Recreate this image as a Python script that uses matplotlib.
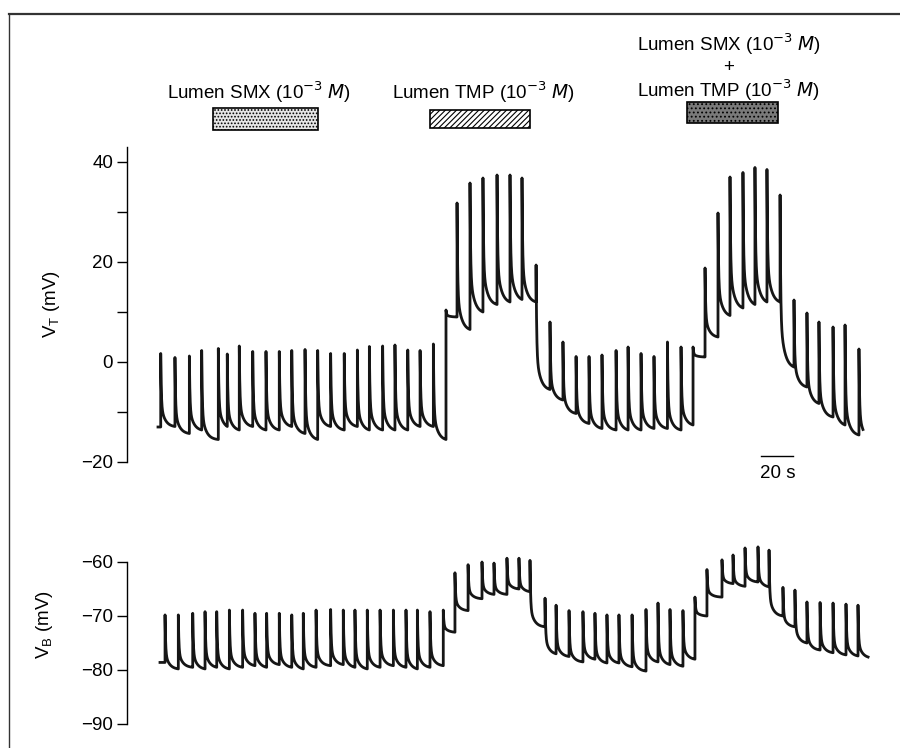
import numpy as np
import matplotlib
matplotlib.use("Agg")
import matplotlib.pyplot as plt
from matplotlib.patches import Rectangle
from matplotlib.lines import Line2D

plt.rcParams['font.family'] = ['Liberation Sans', 'DejaVu Sans']
plt.rcParams['hatch.linewidth'] = 0.8

# ---------------- data ----------------
# Transepithelial potential V_T (mV): time of each spike (s), peak value, level reached before next event
vt_start = (0.0, -13.0)
vt_end_t = 440.6
vt_t = [1.7, 10.6, 19.6, 27.3, 37.7, 43.3, 50.8, 59.2, 67.5, 75.8, 83.6, 91.9, 99.8, 107.9,
        116.4, 124.6, 132.1, 140.4, 148.1, 156.1, 163.8, 172.1,
        180.0,
        186.9, 195.0, 203.1, 211.9, 220.0, 227.5, 236.3,
        245.0, 253.1, 261.3, 269.4, 277.5, 286.3, 293.8, 301.9, 310.0, 318.4, 326.9, 334.4,
        341.9, 350.0, 357.5, 365.6, 373.1, 380.6, 388.8,
        397.5, 405.6, 413.1, 421.9, 429.4, 438.1]
vt_peak = [1.7, 0.9, 1.2, 2.3, 2.7, 1.6, 3.2, 2.1, 2.1, 2.1, 2.3, 2.5, 2.3, 1.7,
           1.7, 2.4, 3.1, 3.2, 3.4, 2.4, 2.3, 3.6,
           10.4,
           31.8, 35.8, 36.8, 37.4, 37.4, 36.8, 19.4,
           8.0, 4.0, 1.1, 1.1, 1.4, 2.3, 3.0, 1.7, 1.1, 4.0, 3.0, 3.0,
           18.8, 29.8, 37.0, 37.9, 38.9, 38.5, 33.4,
           12.4, 9.8, 8.0, 7.0, 7.4, 2.6]
vt_low = [-12.9, -14.3, -13.6, -15.5, -12.9, -13.6, -12.9, -13.6, -13.6, -12.9, -14.3, -15.5, -12.9, -13.6,
          -12.9, -13.6, -13.6, -13.6, -13.6, -12.9, -12.9, -15.5,
          9.0,
          6.5, 10.0, 11.5, 12.0, 12.5, 12.0, -5.5,
          -7.6, -10.3, -12.3, -13.3, -13.6, -13.6, -13.6, -13.3, -13.3, -13.6, -12.6, 1.0,
          5.0, 9.3, 10.8, 11.5, 12.0, 12.0, -1.0,
          -5.0, -8.3, -11.0, -12.6, -14.6, -13.5]

# Basolateral membrane potential V_B (mV)
vb_start = (1.25, -78.6)
vb_end_t = 443.8
vb_t = [4.4, 12.7, 21.7, 29.4, 36.7, 44.6, 52.9, 60.6, 67.9, 75.8, 83.6, 90.8, 98.8, 107.9,
        115.8, 123.1, 130.8, 138.8, 147.1, 155.0, 162.1, 170.0, 178.3,
        185.6, 193.8, 202.5, 210.0, 218.1, 225.6, 232.5,
        241.9, 248.8, 256.9, 265.6, 273.1, 280.6, 288.1, 296.3, 305.0, 312.5, 320.0, 328.1,
        335.6, 343.1, 352.5, 359.4, 366.9, 375.0, 381.9,
        390.6, 398.1, 405.6, 413.8, 421.9, 430.0, 437.5]
vb_peak = [-69.8, -69.8, -69.5, -69.2, -69.2, -68.9, -68.9, -69.5, -69.5, -69.5, -69.8, -69.5, -68.9, -68.8,
           -68.9, -68.9, -68.9, -68.9, -68.9, -68.9, -68.9, -69.2, -68.9,
           -62.0, -60.5, -60.0, -60.2, -59.3, -59.3, -59.7,
           -66.7, -68.0, -69.0, -69.2, -69.5, -69.8, -69.8, -69.8, -68.8, -67.6, -68.8, -69.0,
           -66.5, -61.4, -59.6, -58.7, -57.4, -57.2, -57.8,
           -64.7, -65.2, -67.4, -67.5, -67.6, -67.8, -68.0]
vb_low = [-79.8, -79.5, -79.8, -79.5, -79.8, -79.5, -79.2, -79.5, -79.0, -79.5, -79.8, -79.5, -79.2, -79.0,
          -79.5, -79.8, -79.5, -79.2, -79.5, -79.8, -79.5, -79.2, -73.0,
          -69.0, -66.8, -66.0, -66.0, -65.0, -65.5, -72.0,
          -77.0, -77.5, -78.5, -78.0, -78.7, -78.7, -79.4, -80.2, -78.5, -79.0, -79.3, -78.0,
          -70.0, -66.5, -64.0, -64.5, -63.7, -64.6, -70.0,
          -72.0, -75.0, -76.3, -76.8, -77.2, -77.4, -77.6]

yticks_vt = [-20, 0, 20, 40]
yticks_vb = [-90, -80, -70, -60]
label_smx = "Lumen SMX (10$^{-3}$ $\\it{M}$)"
label_tmp = "Lumen TMP (10$^{-3}$ $\\it{M}$)"


def build_trace(start, spike_t, peaks, lows, t_end, fs=25.0):
    """Join the read spike events: jump to the peak, relax to the read level."""
    ts = [start[0]]
    vs = [start[1]]
    prev = start[1]
    for i, (ti, pi, li) in enumerate(zip(spike_t, peaks, lows)):
        tn = spike_t[i + 1] if i + 1 < len(spike_t) else t_end
        ts.append(ti); vs.append(prev)
        dt = np.arange(0.0, tn - ti, 1.0 / fs)
        shape = 0.70 * np.exp(-dt / 0.35) + 0.30 * np.exp(-dt / 2.6)
        sT = 0.70 * np.exp(-(tn - ti) / 0.35) + 0.30 * np.exp(-(tn - ti) / 2.6)
        frac = (shape - sT) / (1.0 - sT)
        ts.extend(ti + dt)
        vs.extend(li + (pi - li) * frac)
        prev = li
    ts.append(t_end); vs.append(prev)
    return np.array(ts), np.array(vs)


W, H = 900, 748
fig = plt.figure(figsize=(W / 100, H / 100), dpi=100)

def fx(x):
    return x / W

def fy(y):
    return 1 - y / H

xlim = (-19.375, 451.25)
trace_col = '#161616'
FS = 13.5

# ---- V_T panel ----
ax1 = fig.add_axes([fx(127), fy(462), fx(880) - fx(127), fy(147) - fy(462)])
t1, v1 = build_trace(vt_start, vt_t, vt_peak, vt_low, vt_end_t)
ax1.plot(t1, v1, color=trace_col, lw=2.0, solid_joinstyle='round')
ax1.set_xlim(*xlim)
ax1.set_ylim(-20, 43)
ax1.set_yticks(yticks_vt)
ax1.set_yticklabels([f"{v}".replace('-', '\u2212') for v in yticks_vt])
ax1.set_yticks([-10, 10, 30], minor=True)
ax1.set_ylabel("V$_\\mathregular{T}$ (mV)", fontsize=FS)
ax1.yaxis.set_label_coords(-0.086, 0.5)

# scale bar 20 s
ax1.plot([377.0, 397.0], [-18.8, -18.8], color='black', lw=1.0, clip_on=False)
ax1.text(387.5, -22.2, "20 s", ha='center', va='center', fontsize=FS)

# ---- V_B panel ----
ax2 = fig.add_axes([fx(127), fy(724), fx(880) - fx(127), fy(540.4) - fy(724)])
t2, v2 = build_trace(vb_start, vb_t, vb_peak, vb_low, vb_end_t)
ax2.plot(t2, v2, color=trace_col, lw=2.0, solid_joinstyle='round')
ax2.set_xlim(*xlim)
ax2.set_ylim(-90, -56)
ax2.set_yticks(yticks_vb)
ax2.set_yticklabels([f"{v}".replace('-', '\u2212') for v in yticks_vb])
ax2.spines['left'].set_bounds(-90, -60)
ax2.set_ylabel("V$_\\mathregular{B}$ (mV)", fontsize=FS)
ax2.yaxis.set_label_coords(-0.095, 0.54)

for ax in (ax1, ax2):
    for s in ('top', 'right', 'bottom'):
        ax.spines[s].set_visible(False)
    ax.spines['left'].set_linewidth(1.0)
    ax.set_xticks([])
    ax.tick_params(axis='y', which='both', direction='out', length=7, width=1.0,
                   labelsize=FS, pad=3)

# ---- treatment labels and bars ----
fig.text(fx(259), fy(92), label_smx, ha='center', va='center', fontsize=FS)
fig.text(fx(484), fy(92), label_tmp, ha='center', va='center', fontsize=FS)
fig.text(fx(729), fy(44), label_smx, ha='center', va='center', fontsize=FS)
fig.text(fx(729), fy(67), "+", ha='center', va='center', fontsize=FS)
fig.text(fx(729), fy(90), label_tmp, ha='center', va='center', fontsize=FS)

def bar(x0, x1, y0, y1, **kw):
    fig.patches.append(Rectangle((fx(x0), fy(y1)), fx(x1) - fx(x0), fy(y0) - fy(y1),
                                 transform=fig.transFigure, lw=1.2, edgecolor='black', **kw))

bar(213, 318, 108, 130, facecolor='#e6e6e6', hatch='.....')
bar(430, 530, 110, 128, facecolor='white', hatch='//////')
bar(687, 778, 102, 123, facecolor='#7a7a7a', hatch='....')

# ---- frame of the scanned figure ----
fig.lines.append(Line2D([fx(9), fx(9)], [fy(14), 0], transform=fig.transFigure, color='#333', lw=1.0))
fig.lines.append(Line2D([fx(9), 1], [fy(14), fy(14)], transform=fig.transFigure, color='#333', lw=1.6))

fig.savefig("out.png", dpi=100)
